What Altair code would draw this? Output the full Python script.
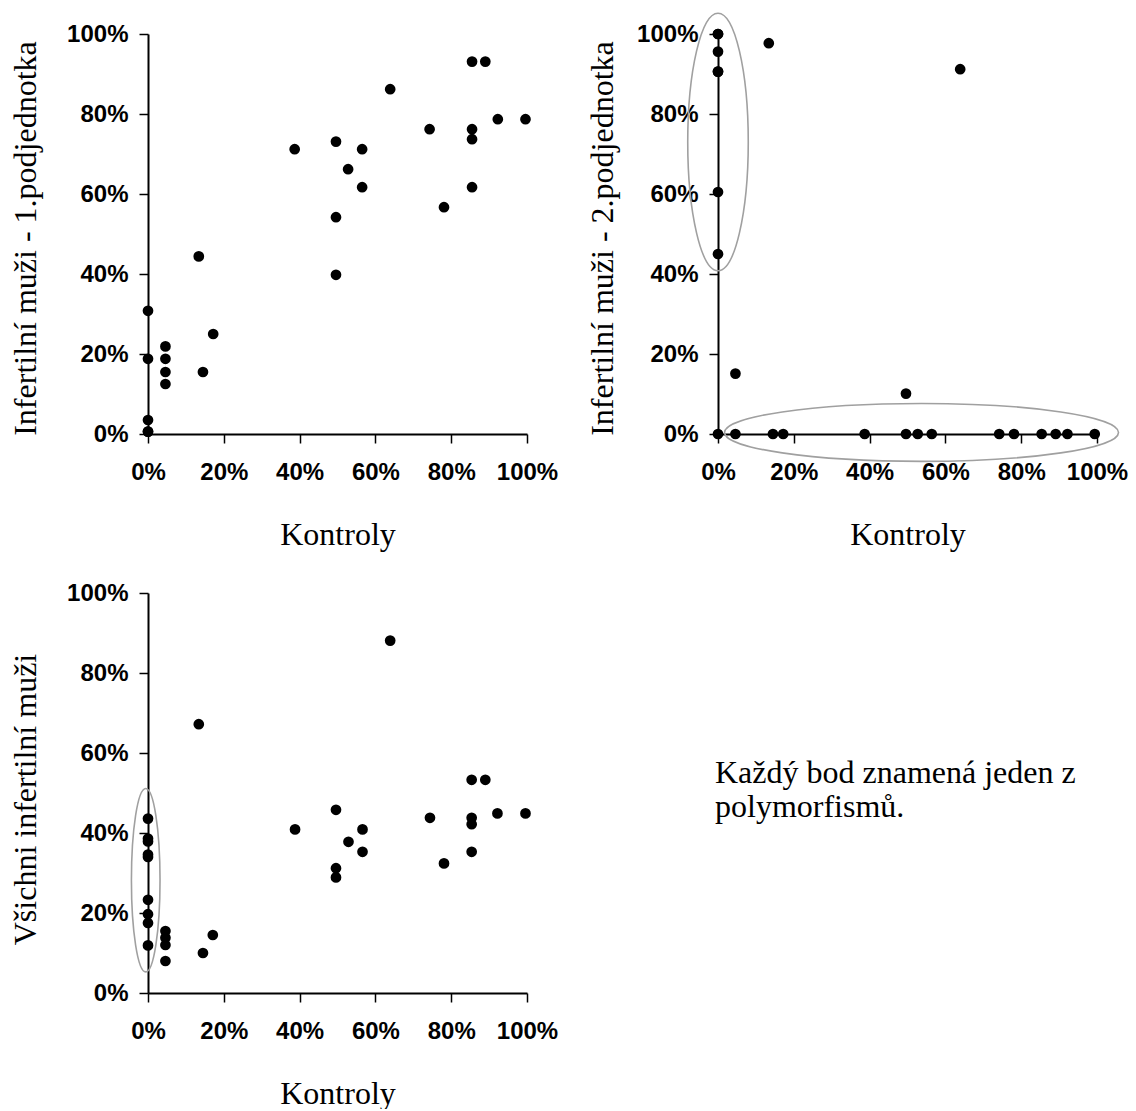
import altair as alt
import pandas as pd

TICKS = [0, 0.2, 0.4, 0.6, 0.8, 1.0]
X_TITLE = "Kontroly"
Y_TITLES = [
    "Infertilní muži - 1.podjednotka",
    "Infertilní muži - 2.podjednotka",
    "Všichni infertilní muži",
]
NOTE_LINES = ["Každý bod znamená jeden z", "polymorfismů."]

# Panel 1 (values in %)
p1_x = [85.5, 89.0, 63.9, 92.3, 99.6, 74.3, 85.5, 85.5, 49.6, 38.7, 56.5, 52.8,
        56.5, 85.5, 78.1, 49.6, 13.4, 49.6, 0, 17.2, 4.6, 0, 4.6, 4.6, 14.5, 4.6,
        0, 0, 0]
p1_y = [93.1, 93.1, 86.2, 78.7, 78.7, 76.2, 76.2, 73.7, 73.1, 71.2, 71.2, 66.2,
        61.7, 61.7, 56.7, 54.2, 44.4, 39.8, 30.8, 25.0, 21.9, 18.8, 18.8, 15.5, 15.5, 12.5,
        3.5, 0.6, 0.6]

# Panel 2
p2_x = [0, 0, 0, 0, 0, 0, 0, 0, 13.4, 63.9, 4.6, 49.6,
        4.6, 14.5, 17.2, 38.7, 49.6, 52.7, 56.4, 74.2, 78.1, 85.4, 89.1, 92.2, 99.4]
p2_y = [100, 100, 95.6, 90.6, 90.6, 60.5, 45.0, 0, 97.7, 91.2, 15.1, 10.1,
        0, 0, 0, 0, 0, 0, 0, 0, 0, 0, 0, 0, 0]

# Panel 3
p3_x = [63.9, 13.4, 85.4, 89.0, 49.6, 92.2, 99.6, 74.4, 85.4, 85.4, 38.8, 56.6,
        52.9, 56.6, 85.4, 78.1, 49.6, 49.6, 17.1, 4.6, 4.6, 4.6, 14.5, 4.6,
        0, 0, 0, 0, 0, 0, 0, 0, 0]
p3_y = [88.1, 67.2, 53.3, 53.3, 45.8, 44.9, 44.9, 43.8, 43.8, 42.2, 40.9, 40.9,
        37.8, 35.3, 35.3, 32.4, 31.2, 28.9, 14.5, 15.5, 13.8, 12.0, 10.0, 8.0,
        43.6, 38.6, 37.9, 34.6, 34.0, 23.3, 19.7, 17.5, 11.9]

# Highlight ellipses: centre (x %, y %), relative half-axes, symbol size
p2_ells = [(0.0, 73.0, 0.235, 1.0, 66358), (53.7, 0.4, 1.0, 0.147, 155236)]
p3_ells = [(-0.6, 28.2, 0.156, 1.0, 33636)]


def ellipse_path(a, b):
    c = 0.5523
    r = lambda v: f"{v:.4f}"
    return (f"M {r(a)} 0 C {r(a)} {r(b*c)} {r(a*c)} {r(b)} 0 {r(b)} "
            f"C {r(-a*c)} {r(b)} {r(-a)} {r(b*c)} {r(-a)} 0 "
            f"C {r(-a)} {r(-b*c)} {r(-a*c)} {r(-b)} 0 {r(-b)} "
            f"C {r(a*c)} {r(-b)} {r(a)} {r(-b*c)} {r(a)} 0 Z")


def panel(xs, ys, ytitle, title_x, title_y, ells):
    sc = alt.Scale(domain=[0, 1], nice=False, zero=False)
    xax = alt.Axis(values=TICKS, format=".0%", title=X_TITLE, titleY=110,
                   titleBaseline="alphabetic", labelPadding=17, labelFlush=False)
    yax = alt.Axis(values=TICKS, format=".0%", title=ytitle, titleX=title_x,
                   titleY=title_y, titleBaseline="alphabetic", titleAlign="center",
                   labelPadding=11, labelFlush=False)
    enc = dict(x=alt.X("x:Q", scale=sc, axis=xax), y=alt.Y("y:Q", scale=sc, axis=yax))
    layers = []
    for (cx, cy, a, b, size) in ells:
        edf = pd.DataFrame({"x": [cx / 100], "y": [cy / 100]})
        layers.append(
            alt.Chart(edf).mark_point(shape=ellipse_path(a, b), size=size, filled=False,
                                      stroke="#a0a0a0", strokeWidth=1.6, opacity=1)
            .encode(**enc))
    df = pd.DataFrame({"x": [v / 100 for v in xs], "y": [v / 100 for v in ys]})
    layers.append(alt.Chart(df).mark_circle(size=115, color="black", opacity=1).encode(**enc))
    return alt.layer(*layers).properties(width=379, height=400)


p1 = panel(p1_x, p1_y, Y_TITLES[0], -113, 204, [])
p2 = panel(p2_x, p2_y, Y_TITLES[1], -106, 204, p2_ells)
p3 = panel(p3_x, p3_y, Y_TITLES[2], -113, 206, p3_ells)

note_df = pd.DataFrame({"t": ["\n".join(NOTE_LINES)]})
note = alt.Chart(note_df).mark_text(
    align="left", baseline="alphabetic", font="Liberation Serif", fontSize=32,
    lineBreak="\n", lineHeight=34, color="black"
).encode(x=alt.value(-3), y=alt.value(190), text="t:N").properties(width=380, height=400)

chart = alt.concat(
    p1, p2, p3, note, columns=2,
    spacing={"row": 159, "column": 191}, bounds="flush"
).properties(
    padding={"left": 8, "top": 9, "right": 5, "bottom": 0}
).configure_view(stroke=None).configure_axis(
    labelFont="Liberation Sans", labelFontWeight="bold", labelFontSize=24,
    labelColor="black", titleFont="Liberation Serif", titleFontSize=32,
    titleFontWeight="normal", titleColor="black", domainColor="black",
    domainWidth=2, tickColor="black", tickWidth=1.5, tickSize=9, grid=False,
    labelOverlap=False
)

chart.save("out.html", embed_options={"renderer": "svg", "actions": False})
